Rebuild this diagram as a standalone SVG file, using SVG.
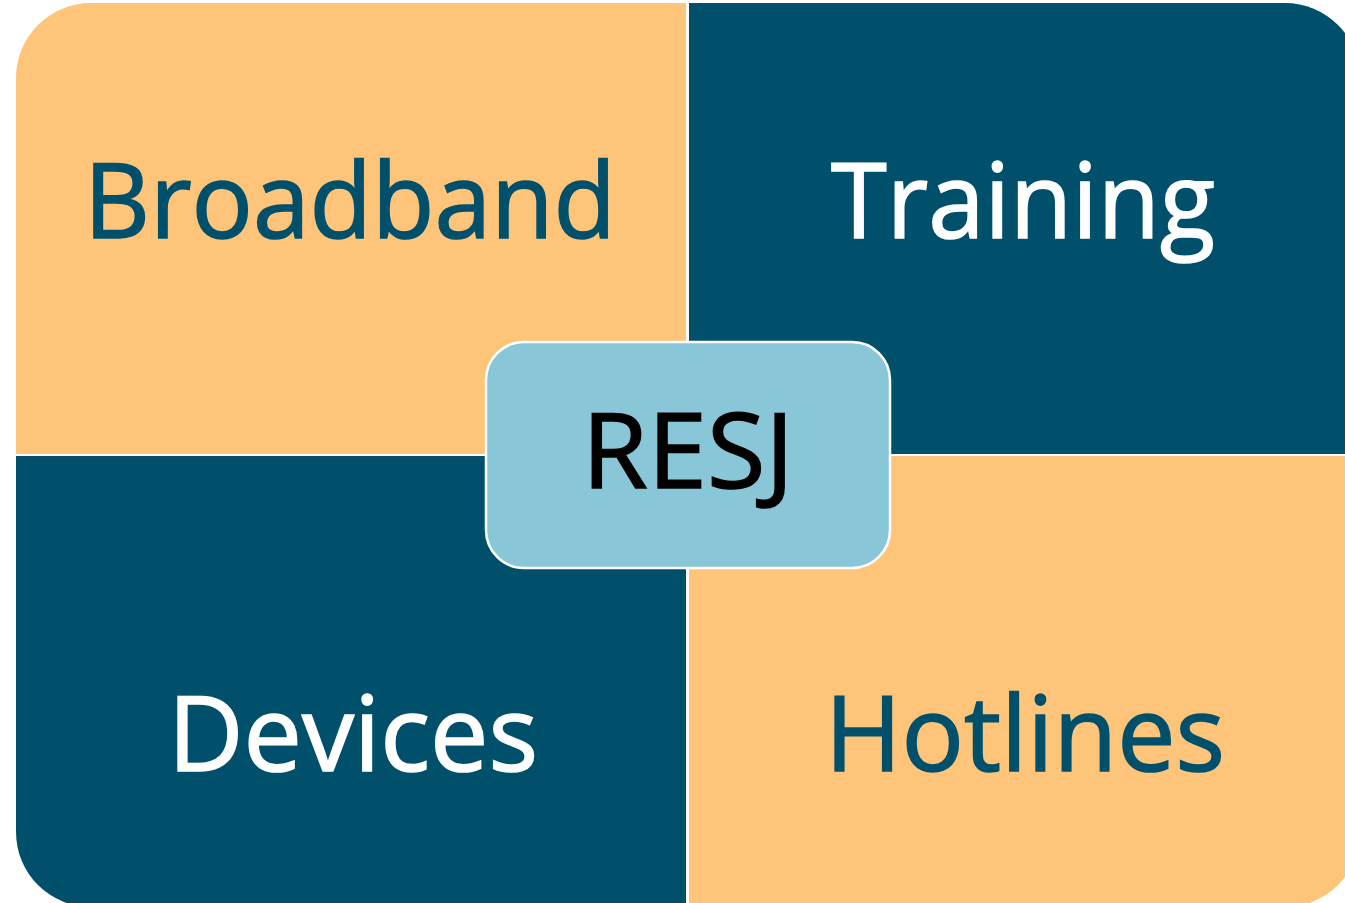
<svg xmlns="http://www.w3.org/2000/svg" width="1345" height="903" viewBox="0 0 1345 903">
<style>
.lbl{font-family:"Open Sans","Noto Sans","Liberation Sans",sans-serif;font-size:105px;text-anchor:middle;stroke-width:1.6px}
.org{fill:#FEC57A}
.dk{fill:#00506C}
</style>
<defs>
<clipPath id="outer"><rect x="16" y="3" width="1344" height="904" rx="75" ry="75"/></clipPath>
</defs>
<rect width="1345" height="903" fill="#ffffff"/>
<g clip-path="url(#outer)">
<g id="broadband"><rect class="org" x="16" y="3" width="670" height="451"/>
<text class="lbl" x="350" y="238" fill="#00506C" stroke="#00506C" textLength="532" lengthAdjust="spacingAndGlyphs">Broadband</text></g>
<g id="training"><rect class="dk" x="689" y="3" width="680" height="451"/>
<text class="lbl" x="1023" y="238" fill="#ffffff" stroke="#ffffff" textLength="384" lengthAdjust="spacingAndGlyphs">Training</text></g>
<g id="devices"><rect class="dk" x="16" y="456" width="670" height="460"/>
<text class="lbl" x="353" y="771" fill="#ffffff" stroke="#ffffff" textLength="370" lengthAdjust="spacingAndGlyphs">Devices</text></g>
<g id="hotlines"><rect class="org" x="689" y="456" width="680" height="460"/>
<text class="lbl" x="1025" y="771" fill="#00506C" stroke="#00506C" textLength="400" lengthAdjust="spacingAndGlyphs">Hotlines</text></g>
</g>
<g id="connectors"></g>
<g id="resj"><rect x="486" y="342" width="404" height="226" rx="38" ry="38" fill="#89C7D8" stroke="#ffffff" stroke-width="2.5"/>
<text class="lbl" x="688" y="488" fill="#000000" stroke="#000000" textLength="212" lengthAdjust="spacingAndGlyphs">RESJ</text></g>
</svg>
